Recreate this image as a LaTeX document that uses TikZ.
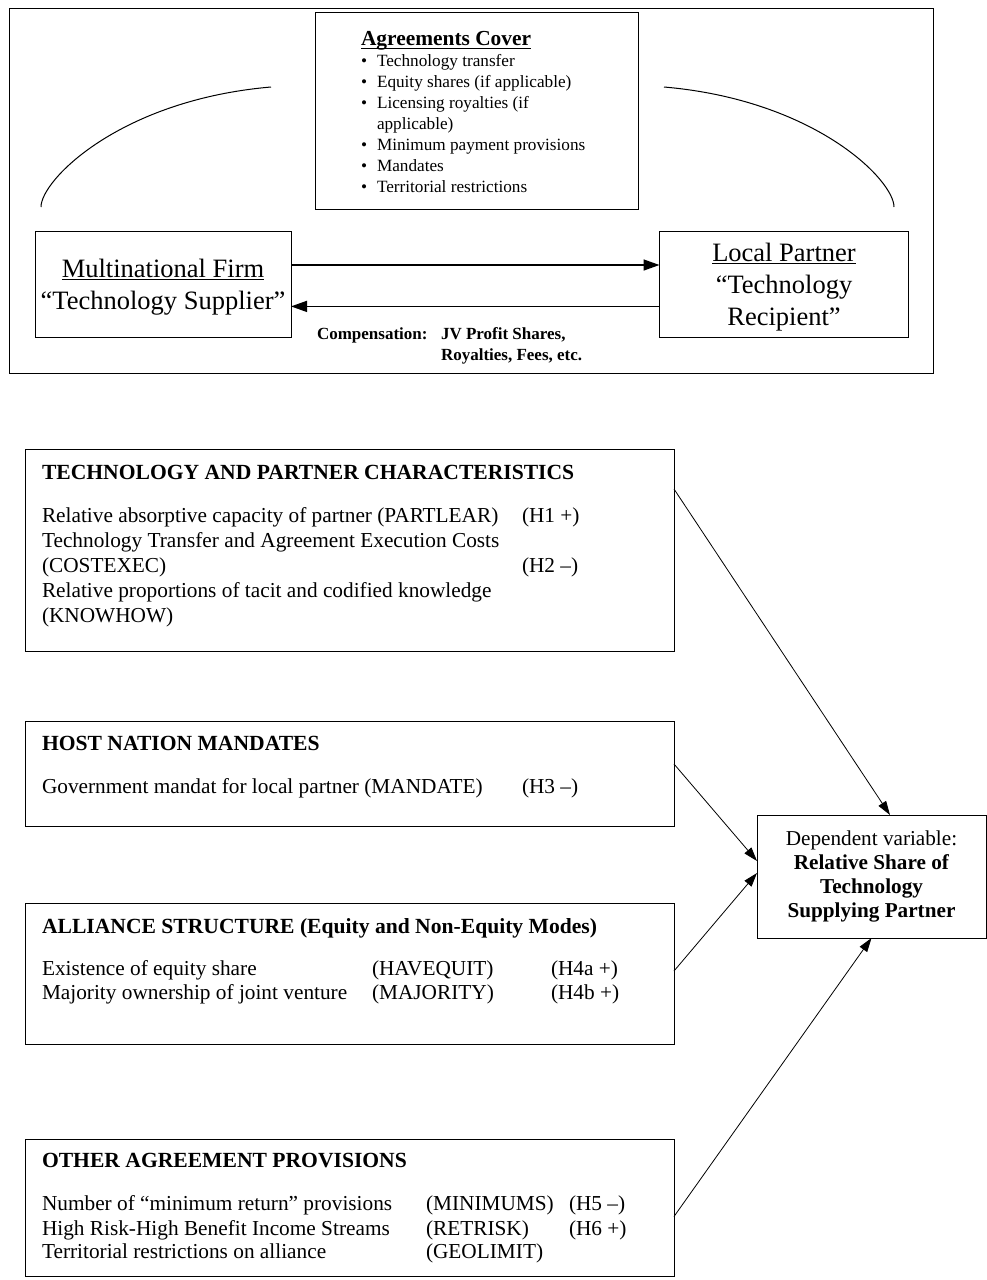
\documentclass[tikz,border=0pt]{standalone}
\usepackage{fontspec}
\setmainfont{Liberation Serif}
\usetikzlibrary{arrows.meta}
\begin{document}
\begin{tikzpicture}[x=1pt,y=-1pt,
  box/.style={draw, line width=1pt, inner sep=0pt, outer sep=0pt, anchor=north west},
  txt/.style={inner sep=0pt, outer sep=0pt, anchor=base west},
  ctxt/.style={inner sep=0pt, outer sep=0pt, anchor=base},
  fbody/.style={font=\fontsize{21.3}{25}\selectfont},
  fhead/.style={font=\fontsize{21.6}{25}\selectfont\bfseries},
  fsmall/.style={font=\fontsize{17.2}{21}\selectfont},
  fsmhead/.style={font=\fontsize{21.4}{25}\selectfont\bfseries},
  fbig/.style={font=\fontsize{26.5}{32}\selectfont},
  fcomp/.style={font=\fontsize{17}{20}\selectfont\bfseries},
  arrL/.style={line width=0.8pt, -{Triangle[length=14pt,width=9pt]}},
  arrT/.style={line width=1.5pt, -{Triangle[length=16pt,width=11pt]}},
  uline/.style={line width=1pt},
  arcline/.style={line width=1pt},
]
\useasboundingbox (0,0) rectangle (987,1280);
% ---------- top section ----------
\node[box, minimum width=924pt, minimum height=365pt] (frame) at (9,8) {};
\node[box, minimum width=323pt, minimum height=197pt] (agr) at (315,12.5) {};
\node[txt, fsmhead] (agrh) at (361,45.6) {Agreements Cover};
\draw[uline] ([yshift=-2.7pt]agrh.base west) -- ([yshift=-2.7pt]agrh.base east);
\node[txt, fsmall] (b1) at (361,66) {•};
\node[txt, fsmall] (i1) at (377,66) {Technology transfer};
\node[txt, fsmall] (b2) at (361,87) {•};
\node[txt, fsmall] (i2) at (377,87) {Equity shares (if applicable)};
\node[txt, fsmall] (b3) at (361,108) {•};
\node[txt, fsmall] (i3) at (377,108) {Licensing royalties (if};
\node[txt, fsmall] (i3b) at (377,129) {applicable)};
\node[txt, fsmall] (b4) at (361,150) {•};
\node[txt, fsmall] (i4) at (377,150) {Minimum payment provisions};
\node[txt, fsmall] (b5) at (361,171) {•};
\node[txt, fsmall] (i5) at (377,171) {Mandates};
\node[txt, fsmall] (b6) at (361,192.5) {•};
\node[txt, fsmall] (i6) at (377,192.5) {Territorial restrictions};

\coordinate (aLs) at (41,207);
\coordinate (aLe) at (271,87);
\coordinate (aRs) at (664,87);
\coordinate (aRe) at (894,207);
\draw[arcline] (aLs) .. controls (41,180) and (120,100) .. (aLe);
\draw[arcline] (aRs) .. controls (815,100) and (894,180) .. (aRe);

\node[box, minimum width=256pt, minimum height=106.4pt] (mn) at (35,231.4) {};
\node[box, minimum width=248.5pt, minimum height=106.4pt] (lp) at (659.5,231.4) {};
\node[ctxt, fbig] (mn1) at (163,277) {Multinational Firm};
\draw[uline] ([yshift=-2.5pt]mn1.base west) -- ([yshift=-2.5pt]mn1.base east);
\node[ctxt, fbig] (mn2) at (163,309) {“Technology Supplier”};
\node[ctxt, fbig] (lp1) at (784,261) {Local Partner};
\draw[uline] ([yshift=-2.5pt]lp1.base west) -- ([yshift=-2.5pt]lp1.base east);
\node[ctxt, fbig] (lp2) at (784,293) {“Technology};
\node[ctxt, fbig] (lp3) at (784,325) {Recipient”};

\draw[arrT] ([yshift=19.6pt]mn.east) -- ([yshift=19.6pt]lp.west);
\draw[arrT] ([yshift=-21.8pt]lp.west) -- ([yshift=-21.8pt]mn.east);

\node[txt, fcomp] (c1) at (317,339.5) {Compensation:};
\node[txt, fcomp] (c2) at (441,339.5) {JV Profit Shares,};
\node[txt, fcomp] (c3) at (441,360) {Royalties, Fees, etc.};

% ---------- lower section ----------
\node[box, minimum width=649pt, minimum height=202pt] (bx1) at (25,449) {};
\node[txt, fhead] (h1) at (42,479) {TECHNOLOGY AND PARTNER CHARACTERISTICS};
\node[txt, fbody] (l11) at (42,522) {Relative absorptive capacity of partner (PARTLEAR)};
\node[txt, fbody] (r11) at (522,522) {(H1 +)};
\node[txt, fbody] (l12) at (42,547) {Technology Transfer and Agreement Execution Costs};
\node[txt, fbody] (l13) at (42,572) {(COSTEXEC)};
\node[txt, fbody] (r13) at (522,572) {(H2 –)};
\node[txt, fbody] (l14) at (42,597) {Relative proportions of tacit and codified knowledge};
\node[txt, fbody] (l15) at (42,622) {(KNOWHOW)};

\node[box, minimum width=649pt, minimum height=105pt] (bx2) at (25,721) {};
\node[txt, fhead] (h2) at (42,750) {HOST NATION MANDATES};
\node[txt, fbody] (l21) at (42,793) {Government mandat for local partner (MANDATE)};
\node[txt, fbody] (r21) at (522,793) {(H3 –)};

\node[box, minimum width=649pt, minimum height=141pt] (bx3) at (25,903) {};
\node[txt, fhead] (h3) at (42,933) {ALLIANCE STRUCTURE (Equity and Non-Equity Modes)};
\node[txt, fbody] (l31) at (42,975) {Existence of equity share};
\node[txt, fbody] (m31) at (372,975) {(HAVEQUIT)};
\node[txt, fbody] (r31) at (551,975) {(H4a +)};
\node[txt, fbody] (l32) at (42,999) {Majority ownership of joint venture};
\node[txt, fbody] (m32) at (372,999) {(MAJORITY)};
\node[txt, fbody] (r32) at (551,999) {(H4b +)};

\node[box, minimum width=649pt, minimum height=137pt] (bx4) at (25,1139) {};
\node[txt, fhead] (h4) at (42,1167) {OTHER AGREEMENT PROVISIONS};
\node[txt, fbody] (l41) at (42,1210) {Number of “minimum return” provisions};
\node[txt, fbody] (m41) at (426,1210) {(MINIMUMS)};
\node[txt, fbody] (r41) at (569,1210) {(H5 –)};
\node[txt, fbody] (l42) at (42,1235) {High Risk-High Benefit Income Streams};
\node[txt, fbody] (m42) at (426,1235) {(RETRISK)};
\node[txt, fbody] (r42) at (569,1235) {(H6 +)};
\node[txt, fbody] (l43) at (42,1258) {Territorial restrictions on alliance};
\node[txt, fbody] (m43) at (426,1258) {(GEOLIMIT)};

\node[box, minimum width=229pt, minimum height=123pt, align=center,
      font=\fontsize{21.2}{24.3}\selectfont] (dep) at (757,815)
  {Dependent variable:\\ \textbf{Relative Share of}\\ \textbf{Technology}\\ \textbf{Supplying Partner}};

\draw[arrL] ([yshift=61pt]bx1.east) -- ([xshift=18.5pt]dep.north);
\draw[arrL] ([yshift=9.5pt]bx2.east) -- ([yshift=15.5pt]dep.west);
\draw[arrL] ([yshift=2.5pt]bx3.east) -- ([yshift=3.5pt]dep.west);
\draw[arrL] ([yshift=-9pt]bx4.east) -- (dep.south);
\end{tikzpicture}
\end{document}
